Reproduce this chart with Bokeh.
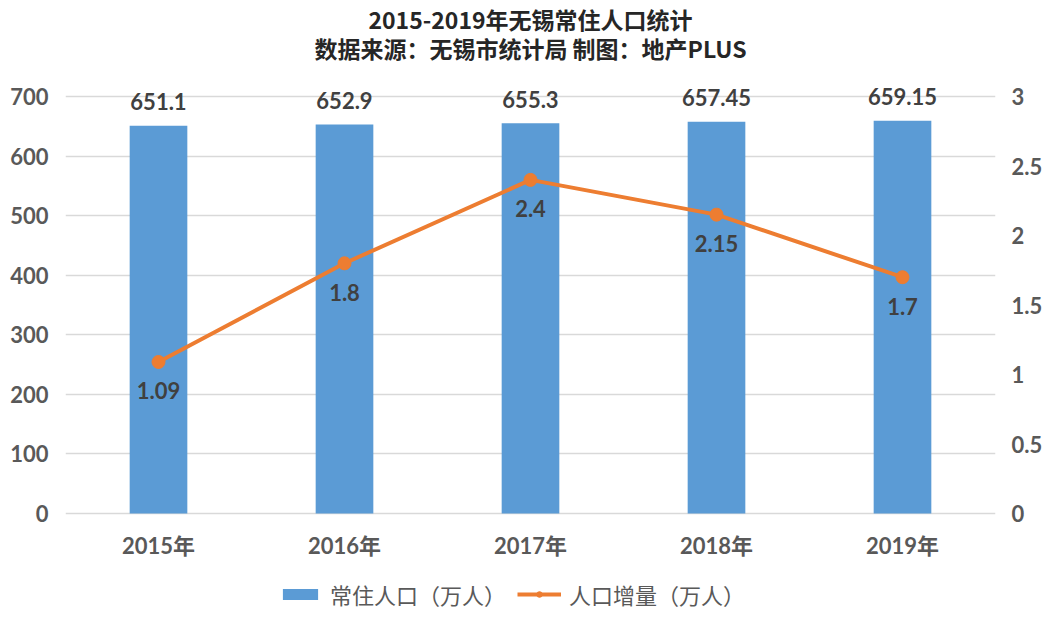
from bokeh.plotting import figure
from bokeh.models import (ColumnDataSource, LinearAxis, Range1d, FactorRange, LabelSet,
                          Legend, LegendItem, FixedTicker)
from bokeh.core.properties import value
from bokeh.embed import file_html
from bokeh.resources import INLINE

years = ["2015年", "2016年", "2017年", "2018年", "2019年"]
population = [651.1, 652.9, 655.3, 657.45, 659.15]
growth = [1.09, 1.8, 2.4, 2.15, 1.7]
left_ticks = [0, 100, 200, 300, 400, 500, 600, 700]
right_ticks = [0, 0.5, 1, 1.5, 2, 2.5, 3]
title_line1 = "2015-2019年无锡常住人口统计"
title_line2 = "数据来源：无锡市统计局 制图：地产PLUS"
bar_name = "常住人口（万人）"
line_name = "人口增量（万人）"

BAR_C = "#5B9BD5"
LINE_C = "#ED7D31"
TICK_C = "#595959"
LABEL_C = "#404040"
FONT = "Lato, 'Noto Sans CJK SC'"
CJK = "'Noto Sans CJK SC'"

# layout (pixels): the frame spans the full height; the gridded area (0..700) is 417px tall,
# with 513px above its baseline and 107px below it.
GRID_H = 417
ABOVE = 513
BELOW = 107
FRAME_H = ABOVE + BELOW
L_MAX, R_MAX = 700, 3
y_lo, y_hi = -L_MAX * BELOW / GRID_H, L_MAX * ABOVE / GRID_H
r_lo, r_hi = -R_MAX * BELOW / GRID_H, R_MAX * ABOVE / GRID_H

src = ColumnDataSource(dict(
    x=years, pop=population, gr=growth, base=[0] * len(years),
    pop_txt=[str(v) for v in population],
    gr_txt=[str(v) for v in growth],
))

p = figure(x_range=FactorRange(*years), y_range=Range1d(y_lo, y_hi),
           frame_width=930, frame_height=FRAME_H,
           min_border_left=65, min_border_right=50, min_border_top=0, min_border_bottom=0,
           output_backend="svg", toolbar_location=None, tools="")
p.outline_line_color = None
p.background_fill_color = "white"
p.border_fill_color = "white"
p.extra_y_ranges = {"right": Range1d(r_lo, r_hi)}

p.xgrid.grid_line_color = None
p.ygrid.grid_line_color = "#D9D9D9"
p.ygrid.grid_line_width = 1.5
p.yaxis.ticker = FixedTicker(ticks=left_ticks)
p.xaxis.visible = False

raxis = LinearAxis(y_range_name="right", ticker=FixedTicker(ticks=right_ticks))
p.add_layout(raxis, "right")

for ax in [p.yaxis[0], raxis]:
    ax.axis_line_color = None
    ax.major_tick_line_color = None
    ax.minor_tick_line_color = None
    ax.major_tick_out = 0
    ax.major_tick_in = 0
    ax.minor_tick_out = 0
    ax.minor_tick_in = 0
    ax.major_label_text_font = FONT
    ax.major_label_text_font_style = "bold"
    ax.major_label_text_font_size = "22px"
    ax.major_label_text_color = TICK_C
p.yaxis.major_label_standoff = 17
raxis.major_label_standoff = 16

bars = p.vbar(x="x", top="pop", width=0.31, source=src, fill_color=BAR_C, line_color=None)
ln = p.line(x="x", y="gr", source=src, y_range_name="right", line_color=LINE_C, line_width=4)
pts = p.scatter(x="x", y="gr", source=src, y_range_name="right", size=13,
                fill_color=LINE_C, line_color=LINE_C)

# category (x axis) labels
p.add_layout(LabelSet(x="x", y="base", text="x", source=src, y_offset=-32,
                      text_align="center", text_baseline="middle",
                      text_font=value(FONT), text_font_style="bold", text_font_size="22px",
                      text_color=TICK_C))
# data labels
p.add_layout(LabelSet(x="x", y="pop", text="pop_txt", source=src, y_offset=24,
                      text_align="center", text_baseline="middle",
                      text_font=value(FONT), text_font_style="bold", text_font_size="22px",
                      text_color=LABEL_C))
p.add_layout(LabelSet(x="x", y="gr", text="gr_txt", source=src, y_range_name="right",
                      y_offset=-29, text_align="center", text_baseline="middle",
                      text_font=value(FONT), text_font_style="bold", text_font_size="22px",
                      text_color=LABEL_C))

# titles (centred over the middle category)
title_src = ColumnDataSource(dict(
    x=[years[2], years[2]],
    y=[y_hi, y_hi],
    t=[title_line1, title_line2],
    off=[-18, -47],
))
p.add_layout(LabelSet(x="x", y="y", text="t", source=title_src, y_offset="off",
                      text_align="center", text_baseline="middle", text_font=value(CJK),
                      text_font_style="bold", text_font_size="23px", text_color="#262626"))

legend = Legend(items=[LegendItem(label=bar_name, renderers=[bars]),
                       LegendItem(label=line_name, renderers=[ln, pts])],
                orientation="horizontal", location=(213, 10),
                label_text_font=CJK, label_text_font_size="22px", label_text_color=TICK_C,
                glyph_width=44, glyph_height=14, label_height=20, label_standoff=8, spacing=11,
                border_line_color=None, background_fill_alpha=0, padding=0, margin=0)
p.add_layout(legend, "center")

open("out.html", "w").write(file_html(p, INLINE))
